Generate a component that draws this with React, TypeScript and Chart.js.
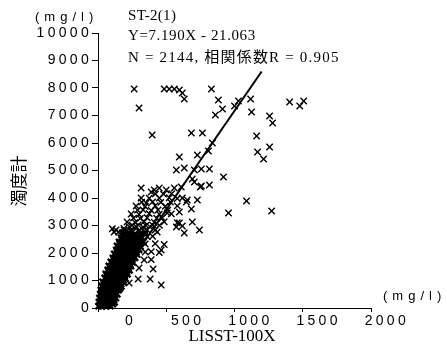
import React, { useEffect, useRef } from 'react';
import { Chart, registerables } from 'chart.js';

Chart.register(...registerables);

// Dense core of the scatter (LISST-100X mg/l, turbidity-meter mg/l)
const denseLisst = [
  5, 30, 60, 90,
  8, 38, 66, 95, 120,
  12, 42, 70, 100, 130,
  18, 48, 76, 105, 140,
  22, 52, 82, 112, 150,
  28, 58, 88, 118, 150, 170,
  35, 65, 95, 125, 155, 185,
  50, 78, 108, 138, 168, 200,
  58, 88, 118, 148, 178, 215,
  72, 100, 130, 160, 190, 230,
  80, 110, 140, 170, 200, 240,
  95, 125, 155, 185, 215, 255,
  110, 140, 170, 200, 230, 270,
  120, 150, 180, 210, 240, 285,
  135, 165, 195, 225, 260, 300,
  140, 175, 205, 240, 275, 310,
  155, 190, 225, 260, 300, 330,
  170, 205, 245, 290, 320,
  190, 230, 270, 310, 345,
];
const denseTurbidity = [
  70, 75, 65, 72,
  215, 222, 218, 225, 212,
  362, 358, 365, 355, 368,
  505, 512, 508, 515, 503,
  652, 648, 655, 645, 660,
  798, 805, 795, 802, 808, 790,
  948, 952, 945, 955, 942, 950,
  1088, 1095, 1085, 1092, 1098, 1080,
  1236, 1242, 1232, 1245, 1238, 1230,
  1382, 1375, 1388, 1378, 1385, 1372,
  1528, 1535, 1522, 1532, 1538, 1525,
  1672, 1665, 1678, 1668, 1675, 1662,
  1818, 1825, 1812, 1822, 1815, 1828,
  1962, 1955, 1968, 1958, 1965, 1952,
  2108, 2115, 2102, 2112, 2105, 2118,
  2252, 2245, 2258, 2248, 2255, 2242,
  2398, 2405, 2392, 2402, 2395, 2408,
  2548, 2555, 2542, 2552, 2545,
  2698, 2705, 2692, 2702, 2695,
];

// Staggered rows filling the gaps of the core
const coreFillLisst = [
  20, 50, 80, 108,
  25, 55, 85, 115,
  28, 58, 88, 120,
  35, 65, 95, 128,
  40, 70, 100, 132, 160,
  45, 75, 105, 138, 168,
  62, 92, 122, 152, 185,
  68, 98, 130, 162, 195,
  80, 112, 145, 175, 210,
  92, 125, 155, 185, 220,
  105, 138, 170, 200, 235,
  118, 150, 185, 215, 250,
  130, 162, 195, 228, 262,
  140, 175, 210, 245, 280,
  152, 188, 222, 258, 290,
  160, 198, 235, 270, 305,
  175, 215, 255, 295,
  185, 225, 265, 305,
];
const coreFillTurbidity = [
  145, 150, 140, 148,
  290, 285, 295, 288,
  435, 440, 430, 438,
  580, 585, 575, 582,
  725, 730, 720, 728, 722,
  875, 870, 880, 872, 878,
  1020, 1025, 1015, 1022, 1018,
  1165, 1160, 1170, 1162, 1168,
  1310, 1315, 1305, 1312, 1308,
  1455, 1450, 1460, 1452, 1458,
  1600, 1605, 1595, 1602, 1598,
  1745, 1740, 1750, 1742, 1748,
  1890, 1895, 1885, 1892, 1888,
  2035, 2030, 2040, 2032, 2038,
  2180, 2185, 2175, 2182, 2178,
  2325, 2320, 2330, 2322, 2328,
  2475, 2480, 2470, 2478,
  2625, 2620, 2630, 2622,
];

// Medium-density spread around the core
const spreadLisst = [
  191, 243, 301, 360, 419,
  213, 272, 338, 412, 485, 581,
  243, 301, 375, 449, 537,
  279, 346, 419, 493, 581,
  316, 375, 522, 581,
  346, 419, 485,
  346, 390, 449, 463,
  338, 390,
  301,
  105, 150, 190, 240, 118, 132, 176,
  743, 691, 632,
  228, 294, 382, 404, 463,
  434,
  230, 280, 330, 380,
  260, 310, 360, 430, 470,
  290, 330, 390, 440, 510,
  320, 400, 460, 530,
  420, 480, 540,
  360, 400,
  210, 255, 300, 345,
  250, 295, 350, 400, 450,
];
const spreadTurbidity = [
  2836, 2850, 2820, 2840, 2830,
  3127, 3110, 3140, 3120, 3135, 3100,
  3418, 3400, 3430, 3410, 3425,
  3709, 3690, 3720, 3700, 3715,
  4000, 3990, 4010, 3980,
  2327, 2340, 2310,
  2036, 2050, 2020, 2109,
  1745, 1760,
  1454,
  2880, 2760, 2890, 2800, 2763, 2836, 2727,
  2836, 3127, 2727,
  909, 1054, 1054, 1418, 836,
  2763,
  2950, 2960, 2940, 2955,
  3270, 3260, 3280, 3265, 3275,
  3560, 3570, 3550, 3565, 3555,
  3850, 3860, 3840, 3855,
  4150, 4140, 4160,
  2600, 2610,
  2780, 2770, 2790, 2775,
  3010, 3020, 3000, 3015, 3005,
];

// Scattered outliers
const outlierLisst = [
  265, 301, 485, 522, 559, 596, 618, 632, 831, 882, 912, 860, 1000, 1029, 1118, 1125, 1257, 1279, 1404, 1478, 1507,
  397, 684, 765, 838, 1162, 809, 728, 1169, 1257, 1213,
  596, 632, 706, 757, 816, 574,
  691, 919, 750, 816,
  618, 654, 728, 684, 596, 956, 1088, 1272, 618,
  316, 412, 449, 500, 559, 610, 706, 757, 353, 390, 449, 507, 647, 596, 574,
];
const outlierTurbidity = [
  7963, 7272, 7963, 7963, 7963, 7927, 7818, 7600, 7963, 7563, 7236, 7018, 7345, 7527, 7600, 7127, 6981, 6727, 7490, 7345, 7527,
  6290, 6363, 6363, 6000, 6254, 5709, 5563, 5672, 5854, 5418,
  5490, 5090, 5018, 5054, 5054, 5018,
  4690, 4763, 4400, 4472,
  4000, 3927, 3927, 3600, 3490, 3454, 3890, 3527, 2981,
  4363, 4290, 4363, 4290, 4363, 4400, 4581, 4436, 3818, 4218, 4000, 3454, 3854, 3090, 2945,
];

// Regression line Y = 7.190X - 21.063 (end points)
const fitLisst = [3, 1199];
const fitTurbidity = [0, 8600];

const xTickValues = [0, 500, 1000, 1500, 2000];
const yTickValues = [0, 1000, 2000, 3000, 4000, 5000, 6000, 7000, 8000, 9000, 10000];

const titleLines = ['ST-2(1)', 'Y=7.190X - 21.063', 'N = 2144, 相関係数R = 0.905'];
const xAxisTitle = 'LISST-100X';
const yAxisTitle = '濁度計';
const unitLabel = '(mg/l)';

const toPoints = (xs: number[], ys: number[]) => xs.map((x, i) => ({ x, y: ys[i] }));

const TICK_SPACING = '3.3px';

const decorPlugin = {
  id: 'decor',
  beforeUpdate(chart: any) {
    chart.ctx.letterSpacing = TICK_SPACING;
  },
  beforeDraw(chart: any) {
    const ctx = chart.ctx;
    ctx.save();
    ctx.fillStyle = '#ffffff';
    ctx.fillRect(0, 0, chart.width, chart.height);
    ctx.restore();
    ctx.letterSpacing = TICK_SPACING;
  },
  afterDraw(chart: any) {
    const ctx = chart.ctx;
    ctx.save();
    ctx.fillStyle = '#000';
    ctx.textBaseline = 'middle';
    ctx.textAlign = 'left';
    ctx.letterSpacing = '5px';
    ctx.font = '13px "Liberation Sans"';
    ctx.fillText(unitLabel, 35, 17);
    ctx.fillText(unitLabel, 383, 296);

    ctx.font = '15px "Liberation Serif", "Noto Sans CJK JP"';
    ctx.letterSpacing = '0.3px';
    ctx.fillText(titleLines[0], 128, 16);
    ctx.letterSpacing = '0.6px';
    ctx.fillText(titleLines[1], 128, 36);
    ctx.letterSpacing = '1.2px';
    ctx.fillText(titleLines[2], 128, 58);

    ctx.letterSpacing = '0px';
    ctx.font = '17px "Liberation Serif"';
    ctx.textAlign = 'center';
    ctx.fillText(xAxisTitle, 232, 337);

    ctx.translate(19, 181);
    ctx.rotate(-Math.PI / 2);
    ctx.font = '17px "Noto Sans CJK JP"';
    ctx.fillText(yAxisTitle, 0, 0);
    ctx.restore();
    ctx.letterSpacing = TICK_SPACING;
  },
};

export default function App() {
  const canvasRef = useRef<HTMLCanvasElement | null>(null);

  useEffect(() => {
    if (!canvasRef.current) return;
    const scatterStyle = {
      pointStyle: 'crossRot' as const,
      pointRadius: 4.5,
      pointBorderWidth: 1.4,
      borderColor: '#000',
      backgroundColor: '#000',
      showLine: false,
      clip: false as const,
    };
    const coreStyle = { ...scatterStyle, pointBorderWidth: 2.4 };
    const chart = new Chart(canvasRef.current, {
      type: 'scatter',
      data: {
        datasets: [
          { data: toPoints(denseLisst, denseTurbidity), ...coreStyle },
          { data: toPoints(coreFillLisst, coreFillTurbidity), ...coreStyle },
          { data: toPoints(spreadLisst, spreadTurbidity), ...scatterStyle },
          { data: toPoints(outlierLisst, outlierTurbidity), ...scatterStyle },
          {
            data: toPoints(fitLisst, fitTurbidity),
            showLine: true,
            borderColor: '#000',
            borderWidth: 2,
            pointRadius: 0,
            fill: false,
          },
        ],
      },
      options: {
        animation: false,
        responsive: false,
        events: [],
        layout: { padding: { left: 0, right: 76, top: 33, bottom: 0 } },
        plugins: { legend: { display: false }, tooltip: { enabled: false } },
        scales: {
          x: {
            type: 'linear',
            position: 'bottom',
            min: 0,
            max: 2000,
            afterFit: (s: any) => { s.height = 45; },
            afterBuildTicks: (s: any) => { s.ticks = xTickValues.map((v) => ({ value: v })); },
            ticks: {
              align: 'end',
              labelOffset: 38,
              maxRotation: 0,
              autoSkip: false,
              padding: 1,
              color: '#000',
              font: { family: 'Liberation Sans', size: 14 },
              callback: (v: any) => String(v),
            },
            grid: { drawOnChartArea: false, drawTicks: true, tickLength: 4, color: '#000', lineWidth: 1 },
            border: { display: true, color: '#000', width: 1 },
          },
          y: {
            type: 'linear',
            min: 0,
            max: 10000,
            afterFit: (s: any) => { s.width = 98; },
            afterBuildTicks: (s: any) => { s.ticks = yTickValues.map((v) => ({ value: v })); },
            ticks: {
              padding: 0,
              autoSkip: false,
              color: '#000',
              font: { family: 'Liberation Sans', size: 14 },
              callback: (v: any) => String(v),
            },
            grid: { drawOnChartArea: false, drawTicks: true, tickLength: 6, color: '#000', lineWidth: 1 },
            border: { display: true, color: '#000', width: 1 },
          },
        },
      },
      plugins: [decorPlugin],
    });
    return () => chart.destroy();
  }, []);

  return (
    <div style={{ position: 'absolute', left: 0, top: 0, width: 447, height: 353, background: '#fff' }}>
      <canvas ref={canvasRef} width={447} height={353} />
    </div>
  );
}
